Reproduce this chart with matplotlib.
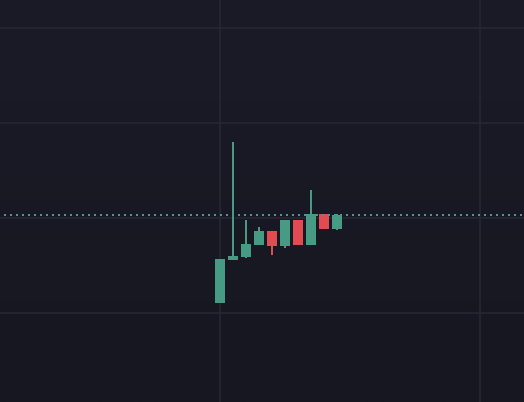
import numpy as np
import matplotlib
matplotlib.use("Agg")
import matplotlib.pyplot as plt
from matplotlib.colors import LinearSegmentedColormap

# Candle data (index, OHLC)
idx = [0, 1, 2, 3, 4, 5, 6, 7, 8, 9]
opens = [101.05, 105.58, 105.89, 107.16, 108.63, 107.05, 109.79, 107.16, 110.42, 108.84]
highs = [105.68, 118.00, 109.79, 109.05, 108.63, 109.79, 109.79, 112.95, 110.42, 110.42]
lows = [101.05, 105.58, 105.79, 107.16, 106.11, 106.84, 107.16, 107.16, 108.84, 108.74]
closes = [105.68, 106.00, 107.26, 108.63, 107.05, 109.79, 107.16, 110.42, 108.84, 110.32]

price_grid = [100, 110, 120, 130]
time_grid = [0, 20]

UP = "#479a83"
DOWN = "#e14b51"
GRID = "#262733"

fig = plt.figure(figsize=(5.24, 4.025), dpi=100)
ax = fig.add_axes([0, 0, 1, 1])
ax.set_xlim(-16.92, 23.38)
ax.set_ylim(90.63, 132.95)
ax.axis("off")

# background gradient
cmap = LinearSegmentedColormap.from_list("bg", ["#161720", "#1a1b27"])
grad = np.linspace(0, 1, 256).reshape(-1, 1)
ax.imshow(grad, aspect="auto", cmap=cmap, origin="lower",
          extent=[0, 1, 0, 1], transform=ax.transAxes, zorder=0)

for p in price_grid:
    ax.axhline(p, color=GRID, lw=1.2, zorder=1)
for t in time_grid:
    ax.axvline(t, color=GRID, lw=1.2, zorder=1)

colors = [UP if c >= o else DOWN for o, c in zip(opens, closes)]
ax.vlines(idx, lows, highs, colors=colors, lw=1.44, zorder=2)
bottoms = [min(o, c) for o, c in zip(opens, closes)]
heights = [abs(c - o) for o, c in zip(opens, closes)]
ax.bar(idx, heights, bottom=bottoms, width=0.77, color=colors,
       linewidth=0, zorder=3)

ax.axhline(closes[-1], color=UP, lw=1.44, linestyle=(1, (1, 2)),
           dash_capstyle="butt", zorder=4)

fig.savefig("out.png", dpi=100, facecolor="#181924")
